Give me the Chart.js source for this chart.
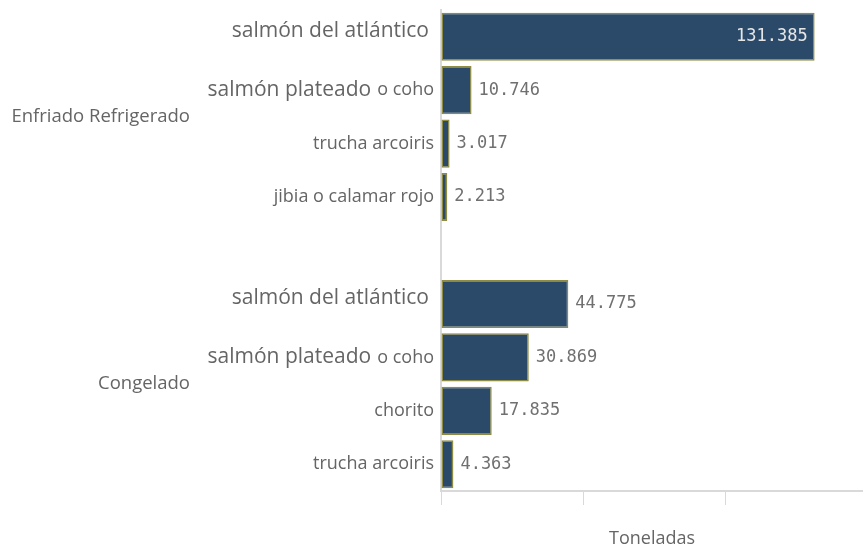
<!DOCTYPE html>
<html>
<head>
<meta charset="utf-8">
<script src="https://cdn.jsdelivr.net/npm/chart.js@4/dist/chart.umd.min.js"></script>
<style>
    html, body { margin: 0; padding: 0; background: #fff; }
    #wrap { width: 863px; height: 548px; }
</style>
</head>
<body>
<div id="wrap"><canvas id="myChart"></canvas></div>
<script>
const groups           = ['Enfriado Refrigerado', 'Congelado'];
const enfriadoLabels   = ['salmón del atlántico', 'salmón plateado o coho', 'trucha arcoiris', 'jibia o calamar rojo'];
const enfriadoValues   = [131385, 10746, 3017, 2213];
const congeladoLabels  = ['salmón del atlántico', 'salmón plateado o coho', 'chorito', 'trucha arcoiris'];
const congeladoValues  = [44775, 30869, 17835, 4363];
const xTicks           = [0, 50000, 100000];
const xTitle           = 'Toneladas';

const FONT  = '"Open Sans", sans-serif';
const MONO  = '"DejaVu Sans Mono", monospace';
const GRAY  = '#656565';
const LINE  = '#d9d9d9';

// una fila vacia separa los dos grupos
const labels    = [...enfriadoLabels, '', ...congeladoLabels];
const values    = [...enfriadoValues, null, ...congeladoValues];
const groupRows = [[0, enfriadoLabels.length - 1], [enfriadoLabels.length + 1, labels.length - 1]];

const fmt = (v) => String(v).replace(/\B(?=(\d{3})+(?!\d))/g, '.');

// nombres de salmón en grande, el calificativo ("o coho") en chico
const splitLabel = (text) => {
    if (text.startsWith('salmón')) {
        const idx = text.indexOf(' o ');
        if (idx > 0) {
            return [{ t: text.slice(0, idx), big: true }, { t: text.slice(idx + 1), big: false }];
        }
        return [{ t: text, big: true }];
    }
    return [{ t: text, big: false }];
};

const labelsPlugin = {
    id: 'labelsPlugin',
    afterDraw(chart) {
        const ctx   = chart.ctx;
        const y     = chart.scales.y;
        const right = y.right - 7;

        ctx.save();
        ctx.fillStyle = GRAY;
        ctx.textBaseline = 'middle';
        ctx.textAlign = 'right';

        labels.forEach((text, i) => {
            if (!text) return;
            const parts = splitLabel(text);
            const py = y.getPixelForValue(i);
            const single = parts.length === 1 && parts[0].big;
            let x = single ? right - 5 : right;
            for (let k = parts.length - 1; k >= 0; k--) {
                const p = parts[k];
                ctx.font = (p.big ? '21px ' : '18px ') + FONT;
                ctx.fillText(p.t, x, py + (single ? -6 : 0));
                x -= ctx.measureText(p.t).width + 6;
            }
        });

        ctx.font = '18.5px ' + FONT;
        groups.forEach((g, i) => {
            const [a, b] = groupRows[i];
            const cy = (y.getPixelForValue(a) + y.getPixelForValue(b)) / 2;
            ctx.fillText(g, 190, cy);
        });

        // valores: adentro solo si no caben afuera
        const meta = chart.getDatasetMeta(0);
        ctx.font = '17px ' + MONO;
        meta.data.forEach((bar, i) => {
            if (values[i] == null) return;
            const txt = fmt(values[i]);
            const w = ctx.measureText(txt).width;
            if (bar.x + 7 + w > chart.chartArea.right) {
                ctx.fillStyle = '#e6e6e6';
                ctx.textAlign = 'right';
                ctx.fillText(txt, bar.x - 7, bar.y);
            } else {
                ctx.fillStyle = '#707070';
                ctx.textAlign = 'left';
                ctx.fillText(txt, bar.x + 7, bar.y);
            }
        });
        ctx.restore();
    }
};

new Chart(document.getElementById('myChart'), {
    type: 'bar',
    data: {
        labels: labels,
        datasets: [{
            data: values,
            backgroundColor: '#2b4a69',
            borderColor: '#8f8c45',
            borderWidth: 1.5,
            borderSkipped: false,
            barPercentage: 0.9,
            categoryPercentage: 1
        }]
    },
    options: {
        indexAxis: 'y',
        responsive: true,
        maintainAspectRatio: false,
        animation: false,
        layout: { padding: { top: 10, right: 0, left: 0, bottom: 0 } },
        plugins: {
            legend: { display: false },
            tooltip: { enabled: false }
        },
        scales: {
            x: {
                min: 0,
                max: 148400,
                afterBuildTicks: (scale) => { scale.ticks = xTicks.map(v => ({ value: v })); },
                afterFit: (scale) => { scale.height = 57; },
                ticks: { display: false },
                grid: { drawOnChartArea: false, drawTicks: true, tickLength: 14, color: LINE, lineWidth: 1 },
                border: { display: true, color: LINE, width: 2 },
                title: {
                    display: true,
                    text: xTitle,
                    color: GRAY,
                    font: { family: 'Open Sans', size: 18 },
                    padding: { top: 0, bottom: -1.5 }
                }
            },
            y: {
                afterFit: (scale) => { scale.width = 441; },
                ticks: { display: false },
                grid: { display: false },
                border: { display: true, color: LINE, width: 2 }
            }
        }
    },
    plugins: [labelsPlugin]
});
</script>
</body>
</html>
